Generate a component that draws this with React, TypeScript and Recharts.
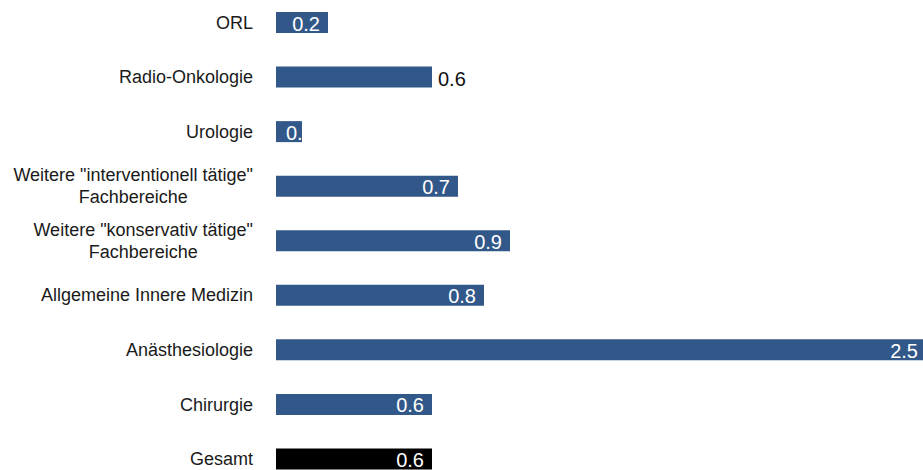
import React from 'react';
import { BarChart, Bar, XAxis, YAxis, Cell, LabelList } from 'recharts';

const categories = [
  'ORL',
  'Radio-Onkologie',
  'Urologie',
  'Weitere "interventionell tätige"\nFachbereiche',
  'Weitere "konservativ tätige"\nFachbereiche',
  'Allgemeine Innere Medizin',
  'Anästhesiologie',
  'Chirurgie',
  'Gesamt',
];
const values = [0.2, 0.6, 0.1, 0.7, 0.9, 0.8, 2.5, 0.6, 0.6];
const barColors = ['#325889', '#325889', '#325889', '#325889', '#325889', '#325889', '#325889', '#325889', '#000000'];
const labelPlacement = ['inside', 'outside', 'inside', 'inside', 'inside', 'inside', 'inside', 'inside', 'inside'];

const data = categories.map((name, i) => ({ name, value: values[i] }));

const FONT_FAMILY = '"Liberation Sans", Arial, sans-serif';
const CAT_SIZE = 18;
const VAL_SIZE = 20;

let ctx: CanvasRenderingContext2D | null = null;
function measure(text: string, size: number) {
  if (!ctx) ctx = document.createElement('canvas').getContext('2d');
  if (!ctx) return text.length * size * 0.55;
  ctx.font = `${size}px ${FONT_FAMILY}`;
  return ctx.measureText(text).width;
}

const CategoryTick = (props: any) => {
  const { y, payload } = props;
  const lines = String(payload.value).split('\n');
  const right = 253;
  const lineH = 22;
  if (lines.length === 1) {
    return (
      <text x={right} y={y + 6.4} textAnchor="end" fill="#1a1a1a" fontSize={CAT_SIZE} fontFamily={FONT_FAMILY}>
        {lines[0]}
      </text>
    );
  }
  const maxW = Math.max(...lines.map((l) => measure(l, CAT_SIZE)));
  const cx = right - maxW / 2;
  return (
    <text textAnchor="middle" fill="#1a1a1a" fontSize={CAT_SIZE} fontFamily={FONT_FAMILY}>
      {lines.map((l, k) => (
        <tspan key={k} x={cx} y={y + 6.4 + (k - (lines.length - 1) / 2) * lineH}>
          {l}
        </tspan>
      ))}
    </text>
  );
};

const ValueLabel = (props: any) => {
  const { x, y, width, height, value, index } = props;
  const cy = y + height / 2;
  const txt = Number(value).toFixed(1);
  const base = cy + 8;
  if (labelPlacement[index] === 'outside') {
    return (
      <text x={x + width + 6} y={base + 1} fill="#111111" fontSize={VAL_SIZE} fontFamily={FONT_FAMILY} textAnchor="start">
        {txt}
      </text>
    );
  }
  const tw = measure(txt, VAL_SIZE);
  if (tw + 16 > width) {
    const id = `clip-lbl-${index}`;
    return (
      <g>
        <defs>
          <clipPath id={id}>
            <rect x={x} y={y} width={width} height={height} />
          </clipPath>
        </defs>
        <text x={x + 10} y={base} fill="#ffffff" fontSize={VAL_SIZE} fontFamily={FONT_FAMILY} textAnchor="start" clipPath={`url(#${id})`}>
          {txt}
        </text>
      </g>
    );
  }
  return (
    <text x={x + width - 8} y={base} fill="#ffffff" fontSize={VAL_SIZE} fontFamily={FONT_FAMILY} textAnchor="end">
      {txt}
    </text>
  );
};

export default function App() {
  return (
    <div style={{ position: 'absolute', left: 0, top: 0, width: 923, height: 470, overflow: 'hidden', background: '#fff' }}>
      <div style={{ position: 'absolute', left: 0, top: -5 }}>
        <BarChart
          width={926}
          height={491}
          data={data}
          layout="vertical"
          margin={{ top: 0, right: 0, bottom: 0, left: 0 }}
          barSize={21}
        >
          <XAxis type="number" domain={[0, 2.5]} hide />
          <YAxis
            type="category"
            dataKey="name"
            width={276}
            axisLine={false}
            tickLine={false}
            tick={<CategoryTick />}
            interval={0}
          />
          <Bar dataKey="value" isAnimationActive={false}>
            {data.map((d, i) => (
              <Cell key={i} fill={barColors[i]} />
            ))}
            <LabelList dataKey="value" content={(p: any) => <ValueLabel {...p} />} />
          </Bar>
        </BarChart>
      </div>
    </div>
  );
}
